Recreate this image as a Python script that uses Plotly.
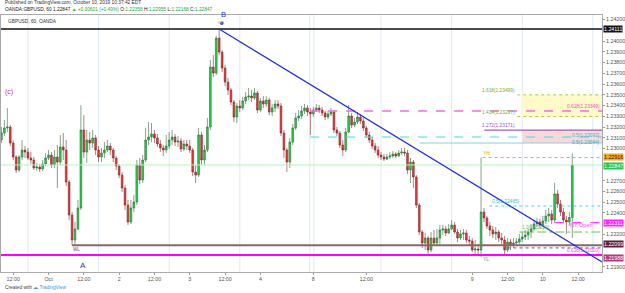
import plotly.graph_objects as go

# ---------------- data (GBPUSD, 60 min, OANDA) ----------------
first_open = 1.23079
closes = [
    1.23144, 1.23191, 1.23200, 1.23051, 1.22921, 1.22800, 1.22921, 1.22986, 1.22967, 1.22912,
    1.22893, 1.22819, 1.22828, 1.22809, 1.22856, 1.22912, 1.22939, 1.22847, 1.22921, 1.22874,
    1.23014, 1.22986, 1.22688, 1.22381, 1.22149, 1.22251, 1.22447, 1.23172, 1.22967, 1.23079,
    1.23051, 1.23098, 1.22986, 1.22921, 1.22958, 1.22986, 1.23023, 1.22986, 1.22912, 1.22837,
    1.22753, 1.22633, 1.22474, 1.22316, 1.22447, 1.22502, 1.22847, 1.22707, 1.22893, 1.23079,
    1.23107, 1.23135, 1.23098, 1.23042, 1.23005, 1.22986, 1.23023, 1.23079, 1.23107, 1.23060,
    1.23070, 1.22995, 1.23042, 1.23023, 1.22986, 1.22781, 1.22753, 1.23125, 1.22893, 1.22986,
    1.23200, 1.23758, 1.23702, 1.24027, 1.23897, 1.23749, 1.23618, 1.23544, 1.23432, 1.23293,
    1.23395, 1.23377, 1.23442, 1.23479, 1.23488, 1.23470, 1.23516, 1.23358, 1.23442, 1.23414,
    1.23451, 1.23339, 1.23377, 1.23414, 1.23395, 1.23144, 1.22986, 1.22874, 1.23060, 1.23191,
    1.23284, 1.23302, 1.23349, 1.23377, 1.23339, 1.23321, 1.23358, 1.23377, 1.23358, 1.23330,
    1.23293, 1.23321, 1.23339, 1.23172, 1.23144, 1.23032, 1.22986, 1.23153, 1.23302, 1.23218,
    1.23246, 1.23293, 1.23256, 1.23191, 1.23125, 1.23079, 1.23023, 1.22986, 1.22939, 1.22921,
    1.22902, 1.22921, 1.22930, 1.22949, 1.22930, 1.22958, 1.22967, 1.22958, 1.22800, 1.22874,
    1.22735, 1.22474, 1.22223, 1.22121, 1.22167, 1.22056, 1.22167, 1.22121, 1.22167, 1.22242,
    1.22251, 1.22214, 1.22251, 1.22288, 1.22223, 1.22167, 1.22205, 1.22214, 1.22149, 1.22140,
    1.22056, 1.22065, 1.22056, 1.22409, 1.22354, 1.22279, 1.22242, 1.22205, 1.22223, 1.22167,
    1.22149, 1.22056, 1.22130, 1.22102, 1.22121, 1.22130, 1.22158, 1.22177, 1.22195, 1.22223,
    1.22251, 1.22298, 1.22316, 1.22288, 1.22326, 1.22372, 1.22391, 1.22335, 1.22577, 1.22484,
    1.22409, 1.22335, 1.22316, 1.22358, 1.22847,
]
highs = [
    1.23200, 1.23265, 1.23377, 1.23218, 1.23079, 1.22939, 1.22939, 1.23079, 1.23023, 1.23005,
    1.22967, 1.22921, 1.22865, 1.22856, 1.22893, 1.22958, 1.22986, 1.22967, 1.22986, 1.23032,
    1.23125, 1.23144, 1.23079, 1.22707, 1.22409, 1.22316, 1.22521, 1.23404, 1.23311, 1.23172,
    1.23153, 1.23172, 1.23125, 1.23023, 1.23005, 1.23060, 1.23079, 1.23051, 1.23005, 1.22930,
    1.22856, 1.22781, 1.22660, 1.22521, 1.22521, 1.22567, 1.22893, 1.22912, 1.22939, 1.23191,
    1.23246, 1.23237, 1.23172, 1.23135, 1.23079, 1.23032, 1.23125, 1.23153, 1.23172, 1.23135,
    1.23116, 1.23098, 1.23079, 1.23079, 1.23079, 1.23005, 1.22847, 1.23191, 1.23153, 1.23032,
    1.23284, 1.23823, 1.23869, 1.24046, 1.24111, 1.23916, 1.23776, 1.23656, 1.23563, 1.23451,
    1.23423, 1.23451, 1.23479, 1.23525, 1.23563, 1.23544, 1.23563, 1.23535, 1.23470, 1.23488,
    1.23488, 1.23470, 1.23414, 1.23451, 1.23451, 1.23423, 1.23172, 1.23005, 1.23098, 1.23228,
    1.23330, 1.23358, 1.23395, 1.23414, 1.23404, 1.23377, 1.23386, 1.23414, 1.23404, 1.23386,
    1.23349, 1.23349, 1.23377, 1.23358, 1.23200, 1.23163, 1.23079, 1.23191, 1.23404, 1.23330,
    1.23284, 1.23339, 1.23321, 1.23284, 1.23209, 1.23153, 1.23107, 1.23051, 1.23023, 1.22967,
    1.22949, 1.22949, 1.22967, 1.22977, 1.22967, 1.22986, 1.23005, 1.23005, 1.22986, 1.22912,
    1.22893, 1.22753, 1.22493, 1.22242, 1.22214, 1.22186, 1.22223, 1.22242, 1.22251, 1.22288,
    1.22288, 1.22279, 1.22298, 1.22335, 1.22316, 1.22251, 1.22242, 1.22251, 1.22242, 1.22186,
    1.22167, 1.22149, 1.22112, 1.22916, 1.22447, 1.22372, 1.22316, 1.22279, 1.22270, 1.22242,
    1.22214, 1.22186, 1.22167, 1.22158, 1.22167, 1.22167, 1.22205, 1.22223, 1.22242, 1.22251,
    1.22298, 1.22335, 1.22354, 1.22344, 1.22372, 1.22428, 1.22447, 1.22428, 1.22679, 1.22614,
    1.22521, 1.22447, 1.22372, 1.22409, 1.22955,
]
lows = [
    1.23051, 1.23116, 1.23153, 1.23023, 1.22893, 1.22772, 1.22781, 1.22893, 1.22912, 1.22893,
    1.22856, 1.22800, 1.22791, 1.22781, 1.22791, 1.22837, 1.22893, 1.22819, 1.22819, 1.22633,
    1.22847, 1.22893, 1.22651, 1.22335, 1.22099, 1.22102, 1.22242, 1.22428, 1.22912, 1.22865,
    1.22986, 1.23005, 1.22939, 1.22874, 1.22874, 1.22912, 1.22967, 1.22939, 1.22874, 1.22800,
    1.22725, 1.22595, 1.22428, 1.22288, 1.22298, 1.22409, 1.22474, 1.22670, 1.22679, 1.22874,
    1.23032, 1.23060, 1.23051, 1.23014, 1.22967, 1.22930, 1.22958, 1.22995, 1.23032, 1.23023,
    1.23014, 1.22967, 1.22977, 1.22986, 1.22958, 1.22744, 1.22679, 1.22735, 1.22847, 1.22847,
    1.22967, 1.23172, 1.23665, 1.23684, 1.23869, 1.23712, 1.23581, 1.23497, 1.23404, 1.23246,
    1.23237, 1.23339, 1.23358, 1.23414, 1.23451, 1.23432, 1.23451, 1.23330, 1.23339, 1.23377,
    1.23386, 1.23311, 1.23302, 1.23339, 1.23367, 1.23116, 1.22912, 1.22781, 1.22819, 1.23032,
    1.23172, 1.23256, 1.23274, 1.23321, 1.23302, 1.23125, 1.23293, 1.23339, 1.23330, 1.23302,
    1.23265, 1.23274, 1.23302, 1.23144, 1.23116, 1.23005, 1.22930, 1.22967, 1.23144, 1.23191,
    1.23200, 1.23228, 1.23228, 1.23163, 1.23098, 1.23051, 1.22995, 1.22958, 1.22912, 1.22893,
    1.22884, 1.22893, 1.22902, 1.22912, 1.22912, 1.22921, 1.22939, 1.22930, 1.22763, 1.22679,
    1.22633, 1.22447, 1.22195, 1.22074, 1.22056, 1.22000, 1.22037, 1.22093, 1.22102, 1.22102,
    1.22195, 1.22186, 1.22205, 1.22242, 1.22205, 1.22130, 1.22149, 1.22149, 1.22121, 1.22102,
    1.22037, 1.22009, 1.22019, 1.21988, 1.22316, 1.22251, 1.22186, 1.22167, 1.22149, 1.22130,
    1.22112, 1.22000, 1.22037, 1.22056, 1.22074, 1.22093, 1.22112, 1.22130, 1.22149, 1.22149,
    1.22167, 1.22233, 1.22270, 1.22261, 1.22270, 1.22298, 1.22316, 1.22298, 1.22316, 1.22447,
    1.22372, 1.22307, 1.22205, 1.22279, 1.22168,
]
opens = [first_open] + closes[:-1]
bars = list(range(len(closes)))

# time-axis labels (bar index -> label)
x_tick_bars = [4, 16, 28, 40, 52, 64, 76, 88, 106, 124, 160, 172, 184, 196]
x_tick_text = ["12:00", "Oct", "12:00", "2", "12:00", "3", "12:00", "4", "8", "12:00",
               "9", "12:00", "10", "12:00"]
session_breaks = [9, 33, 57, 81, 104.8, 106.2, 129, 153, 177, 201]

# price axis (ticks hidden behind value boxes are left out, as in the reference)
price_ticks = [1.219, 1.222, 1.224, 1.225, 1.226, 1.227, 1.230, 1.231, 1.232,
               1.233, 1.234, 1.235, 1.236, 1.237, 1.238, 1.239, 1.240, 1.242]
y_range = [1.21851, 1.24242]
x_range = [-0.15, 204.1]

# drawn levels
level_b_high = 1.24111
level_a_low = 1.22099
level_support = 1.22010
level_yh = 1.22916
level_yl = 1.21988
level_last = 1.22847
level_ny_open = 1.22311
fib_1618 = 1.23499
fib_1414 = 1.23297
fib_pink = 1.23349
fib_1272 = 1.23171
fib_cyan = 1.23107
fib_zone_low = 1.23051
fib_05 = 1.22465
fib_green = 1.22223
fib_blue = 1.22075
trend_start = (74, 1.24111)
trend_end = (204.1, 1.21944)
pivot_b_marker = (74.9, 1.24165)

fig = go.Figure()
fig.add_trace(go.Candlestick(
    x=bars, open=opens, high=highs, low=lows, close=closes,
    increasing=dict(fillcolor="#22d24a", line=dict(color="#2f6b3c", width=0.6)),
    decreasing=dict(fillcolor="#f03434", line=dict(color="#7a2e2e", width=0.6)),
    whiskerwidth=0, showlegend=False, hoverinfo="skip"))
fig.add_trace(go.Scatter(
    x=[pivot_b_marker[0]], y=[pivot_b_marker[1]], mode="markers",
    marker=dict(size=3.5, color="#3344cc"), showlegend=False, hoverinfo="skip"))

shapes = []
for sb in session_breaks:
    shapes.append(dict(type="line", xref="x", yref="paper", x0=sb, x1=sb, y0=0, y1=1,
                       line=dict(color="#dfe9f6", width=1), layer="below"))

def hline(y, x0, color, width=1, dash="solid", x1=None):
    shapes.append(dict(type="line", xref="x", yref="y", x0=x0, x1=x_range[1] if x1 is None else x1,
                       y0=y, y1=y, line=dict(color=color, width=width, dash=dash)))

# zones
shapes.append(dict(type="rect", xref="x", yref="y", x0=177.0, x1=x_range[1], y0=fib_1414, y1=fib_1618,
                   fillcolor="#fffbc8", line=dict(width=0), layer="below"))
shapes.append(dict(type="rect", xref="x", yref="y", x0=177.0, x1=x_range[1], y0=fib_zone_low, y1=fib_1272,
                   fillcolor="#f8d8d8", line=dict(width=0), layer="below"))

hline(level_b_high, x_range[0], "#111111", 1.5)
hline(level_last, x_range[0], "#b9efbd", 1)
hline(level_support, x_range[0], "#ff00ff", 2)
hline(level_a_low, 24, "#86686a", 2)
hline(level_yh, 163.5, "#f5a623", 1, "dot")
hline(fib_1618, 175.3, "#b5c93a", 1, "dot")
hline(fib_1414, 175.3, "#b5c93a", 1, "dot")
hline(fib_pink, 104.9, "#f06ee0", 1.3, "dash")
hline(fib_1272, 164.1, "#a25fb2", 1.3)
hline(fib_cyan, 104.9, "#3fd9ea", 1.2, "dash")
hline(fib_zone_low, 142.1, "#86cfe0", 1.2)
hline(fib_05, 165.8, "#55d0f0", 1, "dot")
hline(level_ny_open, 187.9, "#ff33ff", 1, "dash")
hline(fib_green, 176.0, "#6cc24a", 1, "dashdot")
hline(fib_blue, 172.0, "#3366dd", 1, "dot")

shapes.append(dict(type="line", xref="x", yref="y", x0=trend_start[0], y0=trend_start[1],
                   x1=trend_end[0], y1=trend_end[1], line=dict(color="#1f2ee0", width=1.2)))

ann = []
def txt(x, y, s, color, size=5, xanchor="center", yanchor="middle", xref="x", yref="y", **kw):
    ann.append(dict(x=x, y=y, xref=xref, yref=yref, text=s, showarrow=False,
                    font=dict(color=color, size=size, family="Liberation Sans, Arial"),
                    xanchor=xanchor, yanchor=yanchor, **kw))

txt(2.6, 1.23525, "(c)", "#cc22cc", 7)
txt(75.4, 1.24225, "B", "#2233cc", 7.5, yanchor="bottom", yshift=-4)
txt(74.9, 1.24128, "W1", "#e8a020", 4.3, yanchor="bottom")
txt(27.6, 1.21916, "A", "#2233cc", 8)
txt(25.4, 1.22060, "WL", "#993344", 4.5)
txt(164.8, 1.22958, "YH", "#e8a020", 5)
txt(164.8, 1.21972, "YL", "#888888", 5)
txt(197.2, 1.22290, "NY Open", "#ff33ff", 5.5)
txt(175.3, fib_1618, "1.618(1.23499)", "#77aa33", 4.8, xanchor="right", yanchor="bottom")
txt(175.3, fib_1414, "1.414(1.23297)", "#77aa33", 4.8, xanchor="right", yanchor="bottom")
txt(204.0, fib_pink, "0.618(1.23349)", "#e055cc", 4.8, xanchor="right", yanchor="bottom")
txt(175.3, fib_1272, "1.272(1.23171)", "#9955bb", 4.8, xanchor="right", yanchor="bottom")
txt(204.0, 1.23125, "0.5(1.23092)", "#33b8d0", 4.8, xanchor="right")
txt(204.0, 1.23060, "0.5(1.23044)", "#33a8c0", 4.8, xanchor="right")
txt(177.0, fib_05, "0.5(1.22465)", "#33b8e0", 4.8, xanchor="right", yanchor="bottom")
txt(187.0, fib_green, "1.0(1.22220)", "#66bb44", 4.8, xanchor="right", yanchor="bottom")
txt(204.0, level_support, "0.618(1.22010)", "#e055cc", 4.8, xanchor="right", yanchor="bottom")
txt(1.5, 1.24185, "GBPUSD, 60, OANDA", "#333333", 4.8, xanchor="left")

# price-axis value boxes
def box(y, s, bg, fg="#ffffff", yshift=0):
    ann.append(dict(x=1, xref="paper", y=y, yref="y", text=s, showarrow=False, xanchor="left",
                    xshift=1, yshift=yshift, bgcolor=bg, borderpad=0,
                    font=dict(color=fg, size=5.3, family="Liberation Sans, Arial")))
box(level_b_high, "1.24111", "#111111")
box(level_yh, "1.22916", "#f5a623", "#222222", 1)
box(level_last, "1.22847", "#22c94a", "#ffffff", -1)
box(level_ny_open, "1.22311", "#ff22ff")
box(level_a_low, "1.22099", "#5e1f3a", yshift=1)
box(level_yl, "1.21988", "#b03a7a", yshift=-1)

# header and footer
txt(0.004, 1.047, "Published on TradingView.com, October 10, 2019 10:37:42 EDT", "#333333", 4.8,
    xanchor="left", xref="paper", yref="paper")
txt(0.004, 1.022, "OANDA:GBPUSD, 60 1.22847 <span style='color:#22aa44'>▲ +0.00601 (+0.49%)</span>"
    " O:<span style='color:#22aa44'>1.22358</span> H:<span style='color:#22aa44'>1.22955</span>"
    " L:<span style='color:#22aa44'>1.22168</span> C:<span style='color:#22aa44'>1.22847</span>",
    "#222222", 4.8, xanchor="left", xref="paper", yref="paper")
txt(0.004, -0.062, "Created with <span style='color:#2a9fd8'>☁ TradingView</span>", "#444444", 4.8,
    xanchor="left", xref="paper", yref="paper")

fig.update_layout(
    width=625, height=293, margin=dict(l=0, r=22, t=15, b=21),
    paper_bgcolor="#ffffff", plot_bgcolor="#ffffff", boxgap=0.15,
    shapes=shapes, annotations=ann, showlegend=False,
    xaxis=dict(range=x_range, rangeslider=dict(visible=False), showgrid=False, zeroline=False,
               tickmode="array", tickvals=x_tick_bars, ticktext=x_tick_text,
               tickfont=dict(size=5.3, color="#555555", family="Liberation Sans, Arial"),
               ticks="outside", ticklen=2, tickcolor="#999999",
               showline=True, linecolor="#aaaaaa", linewidth=1, mirror=True),
    yaxis=dict(range=y_range, side="right", showgrid=False, zeroline=False,
               tickmode="array", tickvals=price_ticks, ticktext=[f"{v:.5f}" for v in price_ticks],
               tickfont=dict(size=5.3, color="#555555", family="Liberation Sans, Arial"),
               ticks="outside", ticklen=2, tickcolor="#999999",
               showline=True, linecolor="#aaaaaa", linewidth=1, mirror=True),
)

fig.write_html("out.html")
